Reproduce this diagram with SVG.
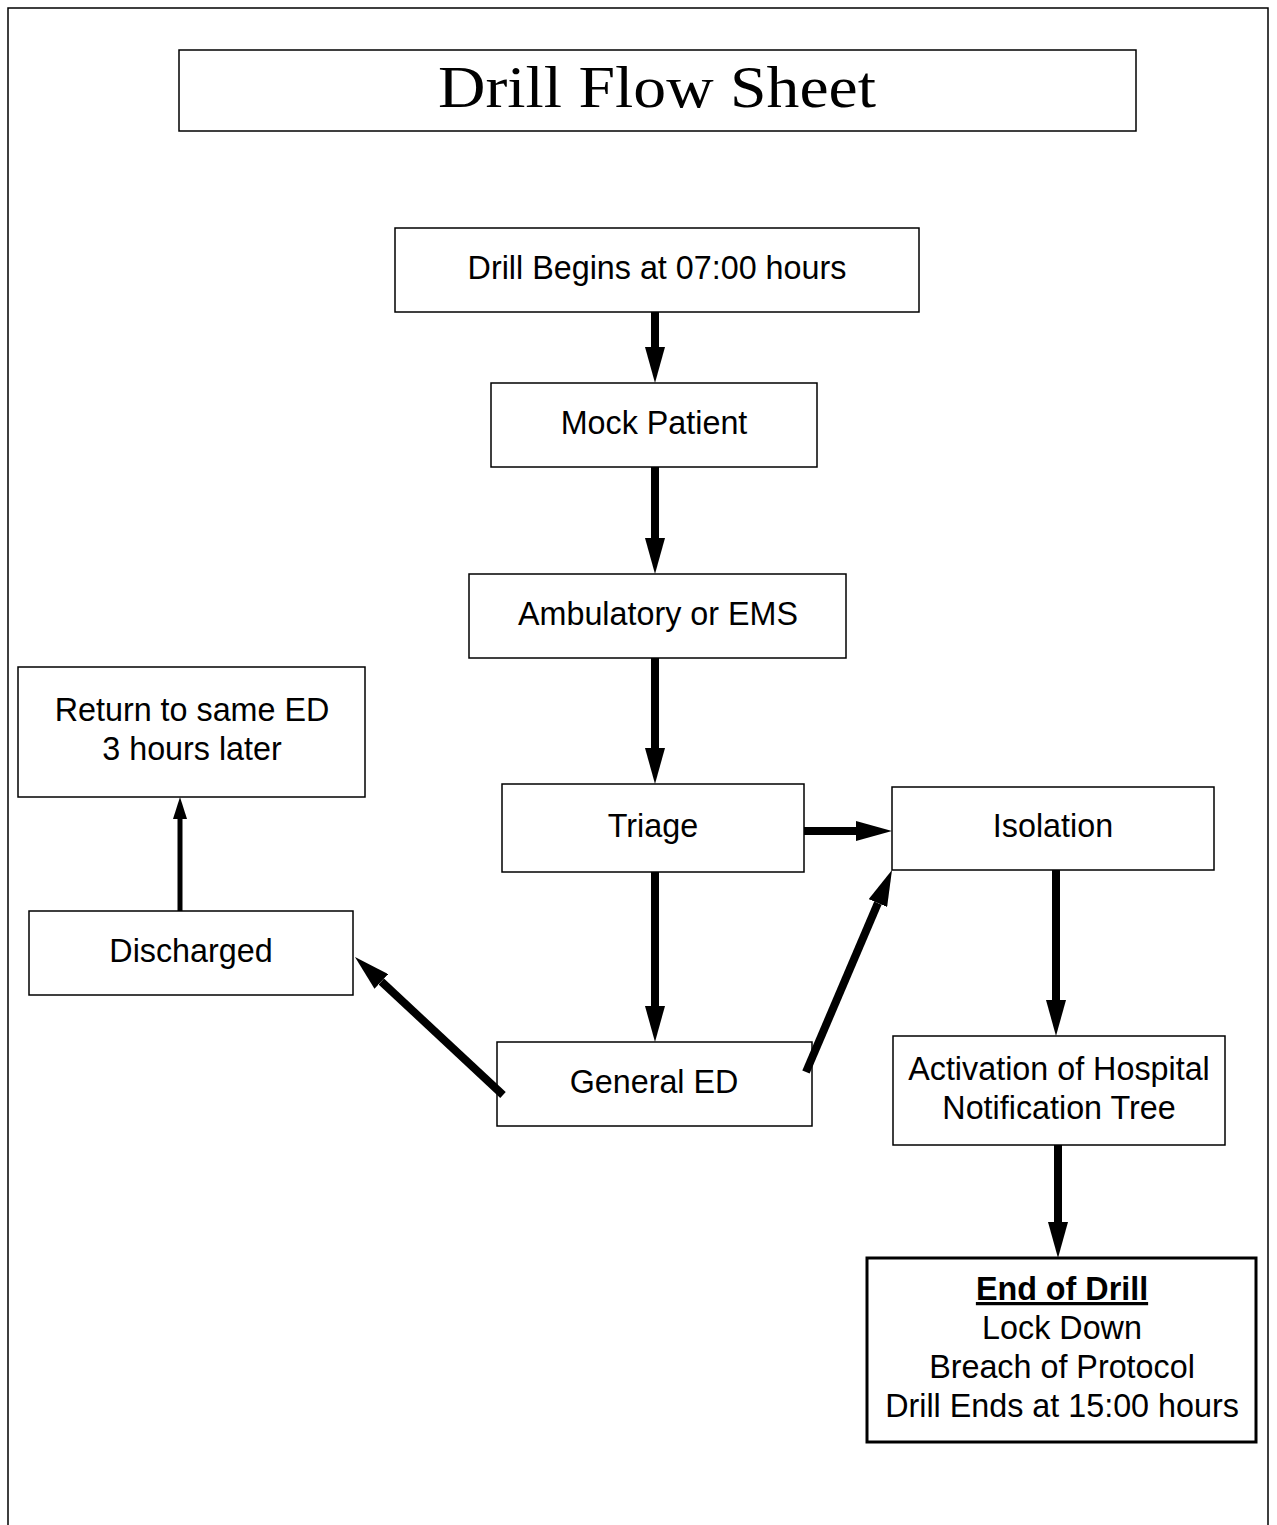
<svg xmlns="http://www.w3.org/2000/svg" width="1277" height="1525" viewBox="0 0 1277 1525">
<style>
.box{fill:#fff;stroke:#000;stroke-width:1.5}
.t{font-family:"Liberation Sans",Arial,Helvetica,sans-serif;font-size:32.3px;fill:#000;text-anchor:middle}
.c{stroke:#000;stroke-width:8;fill:none}
.thin{stroke:#000;stroke-width:5;fill:none}
</style>
<defs>
<marker id="ah" markerUnits="userSpaceOnUse" markerWidth="36" markerHeight="20" refX="0" refY="10" orient="auto" viewBox="0 0 36 20"><path d="M0,0 L36,10 L0,20 z" fill="#000"/></marker>
<marker id="ahs" markerUnits="userSpaceOnUse" markerWidth="22" markerHeight="14" refX="0" refY="7" orient="auto" viewBox="0 0 22 14"><path d="M0,0 L22,7 L0,14 z" fill="#000"/></marker>
</defs>
<rect width="1277" height="1525" fill="#fff"/>
<path d="M8,1525 V8 H1268 V1525" fill="none" stroke="#000" stroke-width="1.5"/>
<g id="title"><rect class="box" x="179" y="50" width="957" height="81"/><text x="657" y="107" font-family="Liberation Serif,Times New Roman,serif" font-size="60" text-anchor="middle" textLength="438" lengthAdjust="spacingAndGlyphs">Drill Flow Sheet</text></g>
<g id="drill-begins"><rect class="box" x="395" y="228" width="524" height="84"/><text class="t" x="657" y="279">Drill Begins at 07:00 hours</text></g>
<g id="mock-patient"><rect class="box" x="491" y="383" width="326" height="84"/><text class="t" x="654" y="434">Mock Patient</text></g>
<g id="ambulatory"><rect class="box" x="469" y="574" width="377" height="84"/><text class="t" x="658" y="625">Ambulatory or EMS</text></g>
<g id="return"><rect class="box" x="18" y="667" width="347" height="130"/><text class="t" x="192" y="721">Return to same ED</text><text class="t" x="192" y="760">3 hours later</text></g>
<g id="triage"><rect class="box" x="502" y="784" width="302" height="88"/><text class="t" x="653" y="837">Triage</text></g>
<g id="isolation"><rect class="box" x="892" y="787" width="322" height="83"/><text class="t" x="1053" y="837">Isolation</text></g>
<g id="discharged"><rect class="box" x="29" y="911" width="324" height="84"/><text class="t" x="191" y="962">Discharged</text></g>
<g id="general-ed"><rect class="box" x="497" y="1042" width="315" height="84"/><text class="t" x="654" y="1093">General ED</text></g>
<g id="activation"><rect class="box" x="893" y="1036" width="332" height="109"/><text class="t" x="1059" y="1080">Activation of Hospital</text><text class="t" x="1059" y="1119">Notification Tree</text></g>
<g id="end-of-drill"><rect x="867" y="1258" width="389" height="184" fill="#fff" stroke="#000" stroke-width="3"/><text class="t" x="1062" y="1300" font-weight="bold" text-decoration="underline">End of Drill</text><text class="t" x="1062" y="1339">Lock Down</text><text class="t" x="1062" y="1378">Breach of Protocol</text><text class="t" x="1062" y="1417">Drill Ends at 15:00 hours</text></g>
<g id="connectors">
<line class="c" x1="655" y1="312" x2="655" y2="347" marker-end="url(#ah)"/>
<line class="c" x1="655" y1="467" x2="655" y2="538" marker-end="url(#ah)"/>
<line class="c" x1="655" y1="658" x2="655" y2="748" marker-end="url(#ah)"/>
<line class="c" x1="655" y1="872" x2="655" y2="1006" marker-end="url(#ah)"/>
<line class="c" x1="804" y1="831" x2="856" y2="831" marker-end="url(#ah)"/>
<line class="c" x1="806" y1="1072" x2="877.9" y2="903.1" marker-end="url(#ah)"/>
<line class="c" x1="503" y1="1095" x2="381.3" y2="981.5" marker-end="url(#ah)"/>
<line class="thin" x1="180" y1="911" x2="180" y2="819" marker-end="url(#ahs)"/>
<line class="c" x1="1056" y1="870" x2="1056" y2="1000" marker-end="url(#ah)"/>
<line class="c" x1="1058" y1="1145" x2="1058" y2="1222" marker-end="url(#ah)"/>
</g>
</svg>
